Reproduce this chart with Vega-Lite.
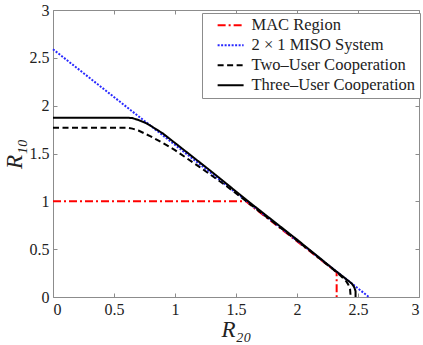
{
  "$schema": "https://vega.github.io/schema/vega-lite/v6.json",
  "width": 366,
  "height": 287,
  "autosize": {"type": "none"},
  "padding": {"left": 53, "top": 10, "right": 4, "bottom": 48},
  "background": "white",
  "config": {
    "view": {"stroke": null},
    "font": "Liberation Serif",
    "axis": {
      "grid": false,
      "domainColor": "#8c8c8c",
      "tickColor": "#8c8c8c",
      "tickSize": -4,
      "labelFont": "Liberation Serif",
      "labelFontSize": 16,
      "labelColor": "#222222",
      "titleFont": "Liberation Serif",
      "titleFontSize": 23,
      "titleFontWeight": "normal",
      "titleFontStyle": "italic",
      "titleColor": "#222222"
    }
  },
  "data": {
    "values": [
      {"series": "MAC Region", "o": 0, "x": 0, "y": 1},
      {"series": "MAC Region", "o": 1, "x": 1.58, "y": 1},
      {"series": "MAC Region", "o": 2, "x": 2.325, "y": 0.26},
      {"series": "MAC Region", "o": 3, "x": 2.325, "y": 0},
      {"series": "2 × 1 MISO System", "o": 0, "x": 0, "y": 2.59},
      {"series": "2 × 1 MISO System", "o": 1, "x": 2.59, "y": 0},
      {"series": "Two–User Cooperation", "o": 0, "x": 0, "y": 1.77},
      {"series": "Two–User Cooperation", "o": 1, "x": 0.6, "y": 1.77},
      {"series": "Two–User Cooperation", "o": 2, "x": 0.65, "y": 1.76},
      {"series": "Two–User Cooperation", "o": 3, "x": 0.7, "y": 1.74},
      {"series": "Two–User Cooperation", "o": 4, "x": 0.8, "y": 1.68},
      {"series": "Two–User Cooperation", "o": 5, "x": 0.9, "y": 1.61},
      {"series": "Two–User Cooperation", "o": 6, "x": 1.0, "y": 1.535},
      {"series": "Two–User Cooperation", "o": 7, "x": 1.2, "y": 1.36},
      {"series": "Two–User Cooperation", "o": 8, "x": 1.4, "y": 1.18},
      {"series": "Two–User Cooperation", "o": 9, "x": 1.55, "y": 1.035},
      {"series": "Two–User Cooperation", "o": 10, "x": 2.0, "y": 0.59},
      {"series": "Two–User Cooperation", "o": 11, "x": 2.3, "y": 0.285},
      {"series": "Two–User Cooperation", "o": 12, "x": 2.36, "y": 0.22},
      {"series": "Two–User Cooperation", "o": 13, "x": 2.4, "y": 0.17},
      {"series": "Two–User Cooperation", "o": 14, "x": 2.42, "y": 0.13},
      {"series": "Two–User Cooperation", "o": 15, "x": 2.435, "y": 0.08},
      {"series": "Two–User Cooperation", "o": 16, "x": 2.44, "y": 0},
      {"series": "Three–User Cooperation", "o": 0, "x": 0, "y": 1.875},
      {"series": "Three–User Cooperation", "o": 1, "x": 0.6, "y": 1.875},
      {"series": "Three–User Cooperation", "o": 2, "x": 0.65, "y": 1.87},
      {"series": "Three–User Cooperation", "o": 3, "x": 0.7, "y": 1.85},
      {"series": "Three–User Cooperation", "o": 4, "x": 0.75, "y": 1.825},
      {"series": "Three–User Cooperation", "o": 5, "x": 0.8, "y": 1.79},
      {"series": "Three–User Cooperation", "o": 6, "x": 0.9, "y": 1.71},
      {"series": "Three–User Cooperation", "o": 7, "x": 1.0, "y": 1.61},
      {"series": "Three–User Cooperation", "o": 8, "x": 1.3, "y": 1.31},
      {"series": "Three–User Cooperation", "o": 9, "x": 1.6, "y": 1.0},
      {"series": "Three–User Cooperation", "o": 10, "x": 2.0, "y": 0.6},
      {"series": "Three–User Cooperation", "o": 11, "x": 2.3, "y": 0.29},
      {"series": "Three–User Cooperation", "o": 12, "x": 2.36, "y": 0.23},
      {"series": "Three–User Cooperation", "o": 13, "x": 2.41, "y": 0.18},
      {"series": "Three–User Cooperation", "o": 14, "x": 2.45, "y": 0.14},
      {"series": "Three–User Cooperation", "o": 15, "x": 2.47, "y": 0.1},
      {"series": "Three–User Cooperation", "o": 16, "x": 2.48, "y": 0.06},
      {"series": "Three–User Cooperation", "o": 17, "x": 2.48, "y": 0}
    ]
  },
  "layer": [
    {
      "encoding": {
        "x": {
          "field": "x", "type": "quantitative",
          "scale": {"domain": [0, 3], "nice": false, "zero": false},
          "axis": {"orient": "bottom", "values": [0, 0.5, 1, 1.5, 2, 2.5, 3], "format": "~g", "labelPadding": 8, "title": "R₂₀", "titlePadding": 1}
        },
        "y": {
          "field": "y", "type": "quantitative",
          "scale": {"domain": [0, 3], "nice": false, "zero": false},
          "axis": {"orient": "left", "values": [0, 0.5, 1, 1.5, 2, 2.5, 3], "format": "~g", "labelPadding": 8, "title": "R₁₀", "titlePadding": 3}
        },
        "order": {"field": "o", "type": "quantitative"},
        "color": {
          "field": "series", "type": "nominal",
          "scale": {
            "domain": ["MAC Region", "2 × 1 MISO System", "Two–User Cooperation", "Three–User Cooperation"],
            "range": ["#ff0000", "#2828ff", "#000000", "#000000"]
          },
          "legend": {
            "title": null,
            "orient": "none",
            "legendX": 149,
            "legendY": 3,
            "fillColor": "white",
            "strokeColor": "#8c8c8c",
            "padding": 4,
            "symbolType": "M1.3,0H11.3",
            "symbolSize": 27,
            "symbolStrokeWidth": 2,
            "labelFont": "Liberation Serif",
            "labelFontSize": 16.5,
            "labelColor": "#222222",
            "rowPadding": 3,
            "labelOffset": 29,
            "labelLimit": 300
          }
        },
        "strokeDash": {
          "field": "series", "type": "nominal",
          "scale": {
            "domain": ["MAC Region", "2 × 1 MISO System", "Two–User Cooperation", "Three–User Cooperation"],
            "range": [[8, 3, 2, 3], [2, 1.5], [6, 3.5], [1, 0]]
          },
          "legend": null
        }
      },
      "layer": [
        {"transform": [{"filter": "datum.series === 'MAC Region'"}], "mark": {"type": "line", "strokeWidth": 2}},
        {"transform": [{"filter": "datum.series === '2 × 1 MISO System'"}], "mark": {"type": "line", "strokeWidth": 2}},
        {"transform": [{"filter": "datum.series === 'Two–User Cooperation'"}], "mark": {"type": "line", "strokeWidth": 2}},
        {"transform": [{"filter": "datum.series === 'Three–User Cooperation'"}], "mark": {"type": "line", "strokeWidth": 2}}
      ]
    },
    {
      "mark": {"type": "point", "opacity": 0},
      "encoding": {
        "x": {"field": "x", "type": "quantitative", "axis": {"orient": "top", "values": [0, 0.5, 1, 1.5, 2, 2.5, 3], "labels": false, "title": null}},
        "y": {"field": "y", "type": "quantitative", "axis": {"orient": "right", "values": [0, 0.5, 1, 1.5, 2, 2.5, 3], "labels": false, "title": null}}
      }
    }
  ],
  "resolve": {"axis": {"x": "independent", "y": "independent"}}
}
